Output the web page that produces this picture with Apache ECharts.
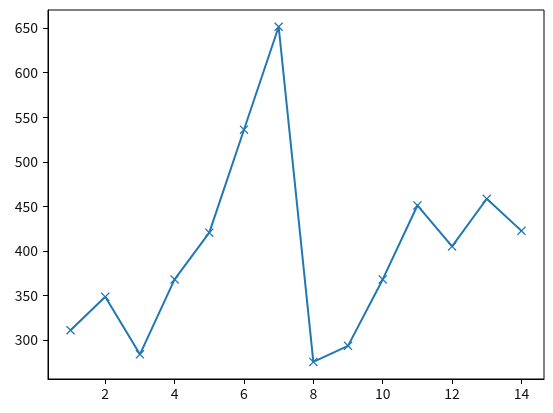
<!DOCTYPE html>
<html>
<head>
<meta charset="utf-8">
<script src="https://cdn.jsdelivr.net/npm/echarts@6/dist/echarts.min.js"></script>
<style>
html,body{margin:0;padding:0;background:#fff;}
#chart{width:553px;height:413px;}
</style>
</head>
<body>
<div id="chart"></div>
<script>
const xValues = [1, 2, 3, 4, 5, 6, 7, 8, 9, 10, 11, 12, 13, 14];
const yValues = [311, 348.5, 284, 368, 420.5, 536, 651.5, 275.5, 293.5, 368, 451, 405, 458.5, 422.5];
const xTicks = [2, 4, 6, 8, 10, 12, 14];
const yTicks = [300, 350, 400, 450, 500, 550, 600, 650];

const FONT = '"Noto Sans CJK JP", "DejaVu Sans", sans-serif';
const chart = echarts.init(document.getElementById('chart'), null, {renderer: 'canvas'});
const xMark = 'path://M0,1L1,0L5,4L9,0L10,1L6,5L10,9L9,10L5,6L1,10L0,9L4,5Z';

chart.setOption({
  animation: false,
  backgroundColor: '#fff',
  grid: {left: 48, right: 9, top: 10, bottom: 34, show: true, borderColor: '#000', borderWidth: 1, backgroundColor: 'transparent'},
  xAxis: {
    type: 'value', min: 0.35, max: 14.65,
    splitLine: {show: false},
    axisLine: {show: true, onZero: false, lineStyle: {color: '#000', width: 1}},
    axisTick: {show: true, length: 5, lineStyle: {color: '#000'}, customValues: xTicks},
    axisLabel: {color: '#111', fontSize: 14, fontFamily: FONT, margin: 8, customValues: xTicks}
  },
  yAxis: {
    type: 'value', min: 256.3, max: 670.3,
    splitLine: {show: false},
    axisLine: {show: true, onZero: false, lineStyle: {color: '#000', width: 1}},
    axisTick: {show: true, length: 5, lineStyle: {color: '#000'}, customValues: yTicks},
    axisLabel: {color: '#111', fontSize: 14, fontFamily: FONT, margin: 10, customValues: yTicks}
  },
  series: [{
    type: 'line',
    data: xValues.map((x, i) => [x, yValues[i]]),
    lineStyle: {color: '#1f77b4', width: 2},
    itemStyle: {color: '#1f77b4'},
    symbol: xMark,
    symbolSize: 9,
    showAllSymbol: true
  }]
});
</script>
</body>
</html>
